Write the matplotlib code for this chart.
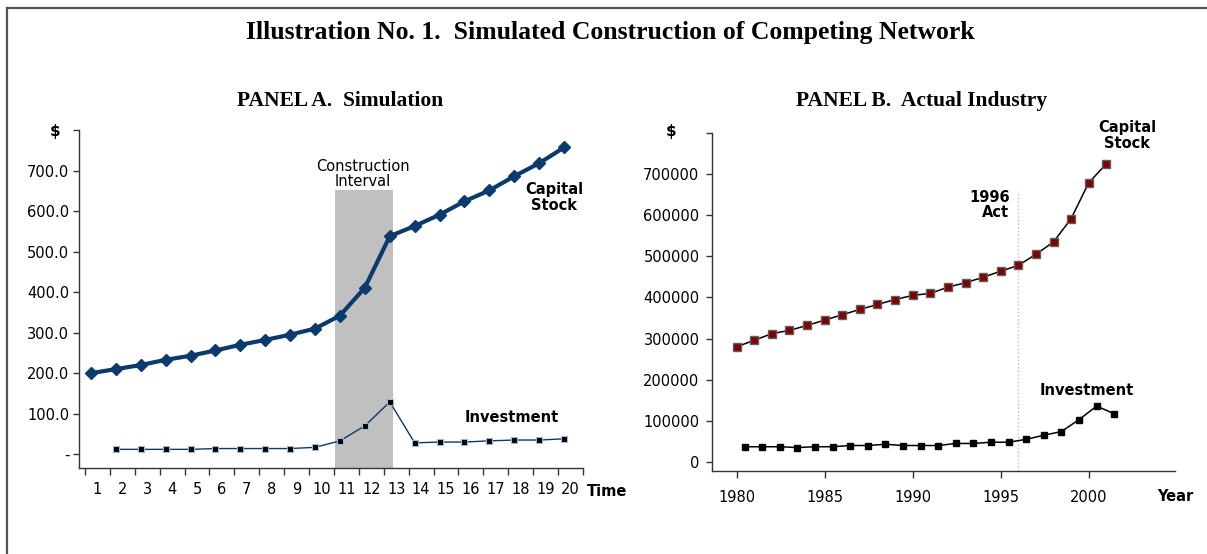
import matplotlib.pyplot as plt
from matplotlib.lines import Line2D
import numpy as np

# ---- data: panel A (simulation) ----
time = list(range(1, 21))
capital_a = [200, 210, 220, 233, 243, 256, 270, 282, 295, 310,
             342, 411, 538, 563, 591, 624, 651, 686, 718, 757]
invest_time = list(range(2, 21))
invest_a = [12, 12, 12, 12, 14, 14, 14, 14, 17,
            33, 70, 129, 28, 30, 30, 33, 35, 35, 38]
construction = (10.8, 13.12)   # shaded interval on the time axis
construction_top = 651

# ---- data: panel B (actual industry) ----
years = list(range(1980, 2002))
capital_b = [280000, 296000, 312000, 320000, 332000, 345000, 358000, 371000,
             383000, 395000, 405000, 410000, 425000, 436000, 449000, 464000,
             478000, 505000, 535000, 592000, 679000, 725000]
invest_b = [37000, 37000, 37000, 35000, 37000, 37000, 40000, 40000, 43000,
            40000, 40000, 40000, 45000, 45000, 48000, 48000, 55000, 65000,
            74000, 103000, 136000, 117000]
act_year = 1996
act_top = 658000

sans = 'DejaVu Sans'
serif = 'Liberation Serif'
plt.rcParams['font.family'] = sans

fig = plt.figure(figsize=(12.07, 5.54), dpi=100)

# border (top and left edges)
fig.add_artist(Line2D([7/1207, 1], [1-8/554, 1-8/554], color='#555555', lw=1.6))
fig.add_artist(Line2D([7/1207, 7/1207], [0, 1-8/554], color='#555555', lw=1.6))

fig.text(610/1207, 1-33/554, 'Illustration No. 1.  Simulated Construction of Competing Network',
         family=serif, fontweight='bold', fontsize=18.5, ha='center', va='center')
fig.text(340/1207, 1-101/554, 'PANEL A.  Simulation', family=serif, fontweight='bold',
         fontsize=15.5, ha='center', va='center')
fig.text(922/1207, 1-101/554, 'PANEL B.  Actual Industry', family=serif, fontweight='bold',
         fontsize=15.5, ha='center', va='center')

# ================= Panel A =================
ax = fig.add_axes([79/1207, 1-468/554, 504/1207, 338/554])
ax.set_xlim(0.52, 20.76)
ax.set_ylim(-34, 800)

ax.fill_between(construction, -34, construction_top, color='#C0C0C0', lw=0, zorder=1)

navy = '#0B3A6E'
ax.plot(time, capital_a, color=navy, lw=3.0, marker='D', ms=6,
        mfc=navy, mec=navy, zorder=3)
ax.plot(invest_time, invest_a, color=navy, lw=1.0, marker='s', ms=5,
        mfc='black', mec='#9DB7D5', mew=0.8, zorder=3)

for s in ['top', 'right']:
    ax.spines[s].set_visible(False)
for s in ['left', 'bottom']:
    ax.spines[s].set_color('#333333')
    ax.spines[s].set_linewidth(1.0)

yt = list(range(0, 801, 100))
ax.set_yticks(yt)
ax.set_yticklabels(['-'] + ['%.1f' % v for v in yt[1:-1]] + [''], fontsize=10.5)
ax.tick_params(axis='y', direction='out', length=4, width=1, color='#333333', pad=3)

ax.set_xticks([t - 0.24 for t in range(1, 22)])
ax.set_xticklabels([])
ax.set_xticks([t + 0.26 for t in time], minor=True)
ax.set_xticklabels([str(t) for t in time], minor=True, fontsize=10.5)
ax.tick_params(axis='x', which='major', direction='out', length=5, width=1, color='#333333')
ax.tick_params(axis='x', which='minor', length=0, pad=10)

ax.text(11.92, 655, 'Construction\nInterval', ha='center', va='bottom', fontsize=10.5,
        linespacing=1.0)
ax.text(19.6, 634, 'Capital\nStock', ha='center', va='center', fontsize=10.5,
        fontweight='bold', linespacing=1.05)
ax.text(17.9, 91, 'Investment', ha='center', va='center', fontsize=10.5, fontweight='bold')
ax.text(20.92, -93, 'Time', ha='left', va='center', fontsize=10.5, fontweight='bold',
        clip_on=False)
ax.text(-0.45, 796, '$', ha='center', va='center', fontsize=11, fontweight='bold',
        clip_on=False)

# ================= Panel B =================
bx = fig.add_axes([712/1207, 1-471/554, 463/1207, 338/554])
bx.set_xlim(1978.6, 2004.9)
bx.set_ylim(-22000, 800000)

bx.plot([act_year, act_year], [-22000, act_top], color='#BBBBBB', lw=1.0, ls=':', zorder=1)

bx.plot(years, capital_b, color='black', lw=1.1, marker='s', ms=6,
        mfc='#800000', mec='#606060', mew=1.0, zorder=3)
bx.plot([y + 0.45 for y in years], invest_b, color='black', lw=1.1, marker='s', ms=5,
        mfc='black', mec='black', zorder=3)

for s in ['top', 'right']:
    bx.spines[s].set_visible(False)
for s in ['left', 'bottom']:
    bx.spines[s].set_color('#333333')
    bx.spines[s].set_linewidth(1.0)

yb = list(range(0, 800001, 100000))
bx.set_yticks(yb)
bx.set_yticklabels([str(v) for v in yb[:-1]] + [''], fontsize=10.5)
bx.tick_params(axis='y', direction='out', length=4, width=1, color='#333333', pad=5)

xb = [1980, 1985, 1990, 1995, 2000]
bx.set_xticks(xb)
bx.set_xticklabels([str(v) for v in xb], fontsize=10.5)
bx.tick_params(axis='x', direction='out', length=5, width=1, color='#333333', pad=9)

bx.text(1995.5, 625000, '1996\nAct', ha='right', va='center', fontsize=10.5,
        fontweight='bold', linespacing=1.05)
bx.text(2002.2, 794000, 'Capital\nStock', ha='center', va='center', fontsize=10.5,
        fontweight='bold', linespacing=1.05, clip_on=False)
bx.text(1999.9, 173000, 'Investment', ha='center', va='center', fontsize=10.5,
        fontweight='bold')
bx.text(2003.9, -85000, 'Year', ha='left', va='center', fontsize=10.5, fontweight='bold',
        clip_on=False)
bx.text(1976.3, 804000, '$', ha='center', va='center', fontsize=11, fontweight='bold',
        clip_on=False)

fig.savefig('out.png', dpi=100)
